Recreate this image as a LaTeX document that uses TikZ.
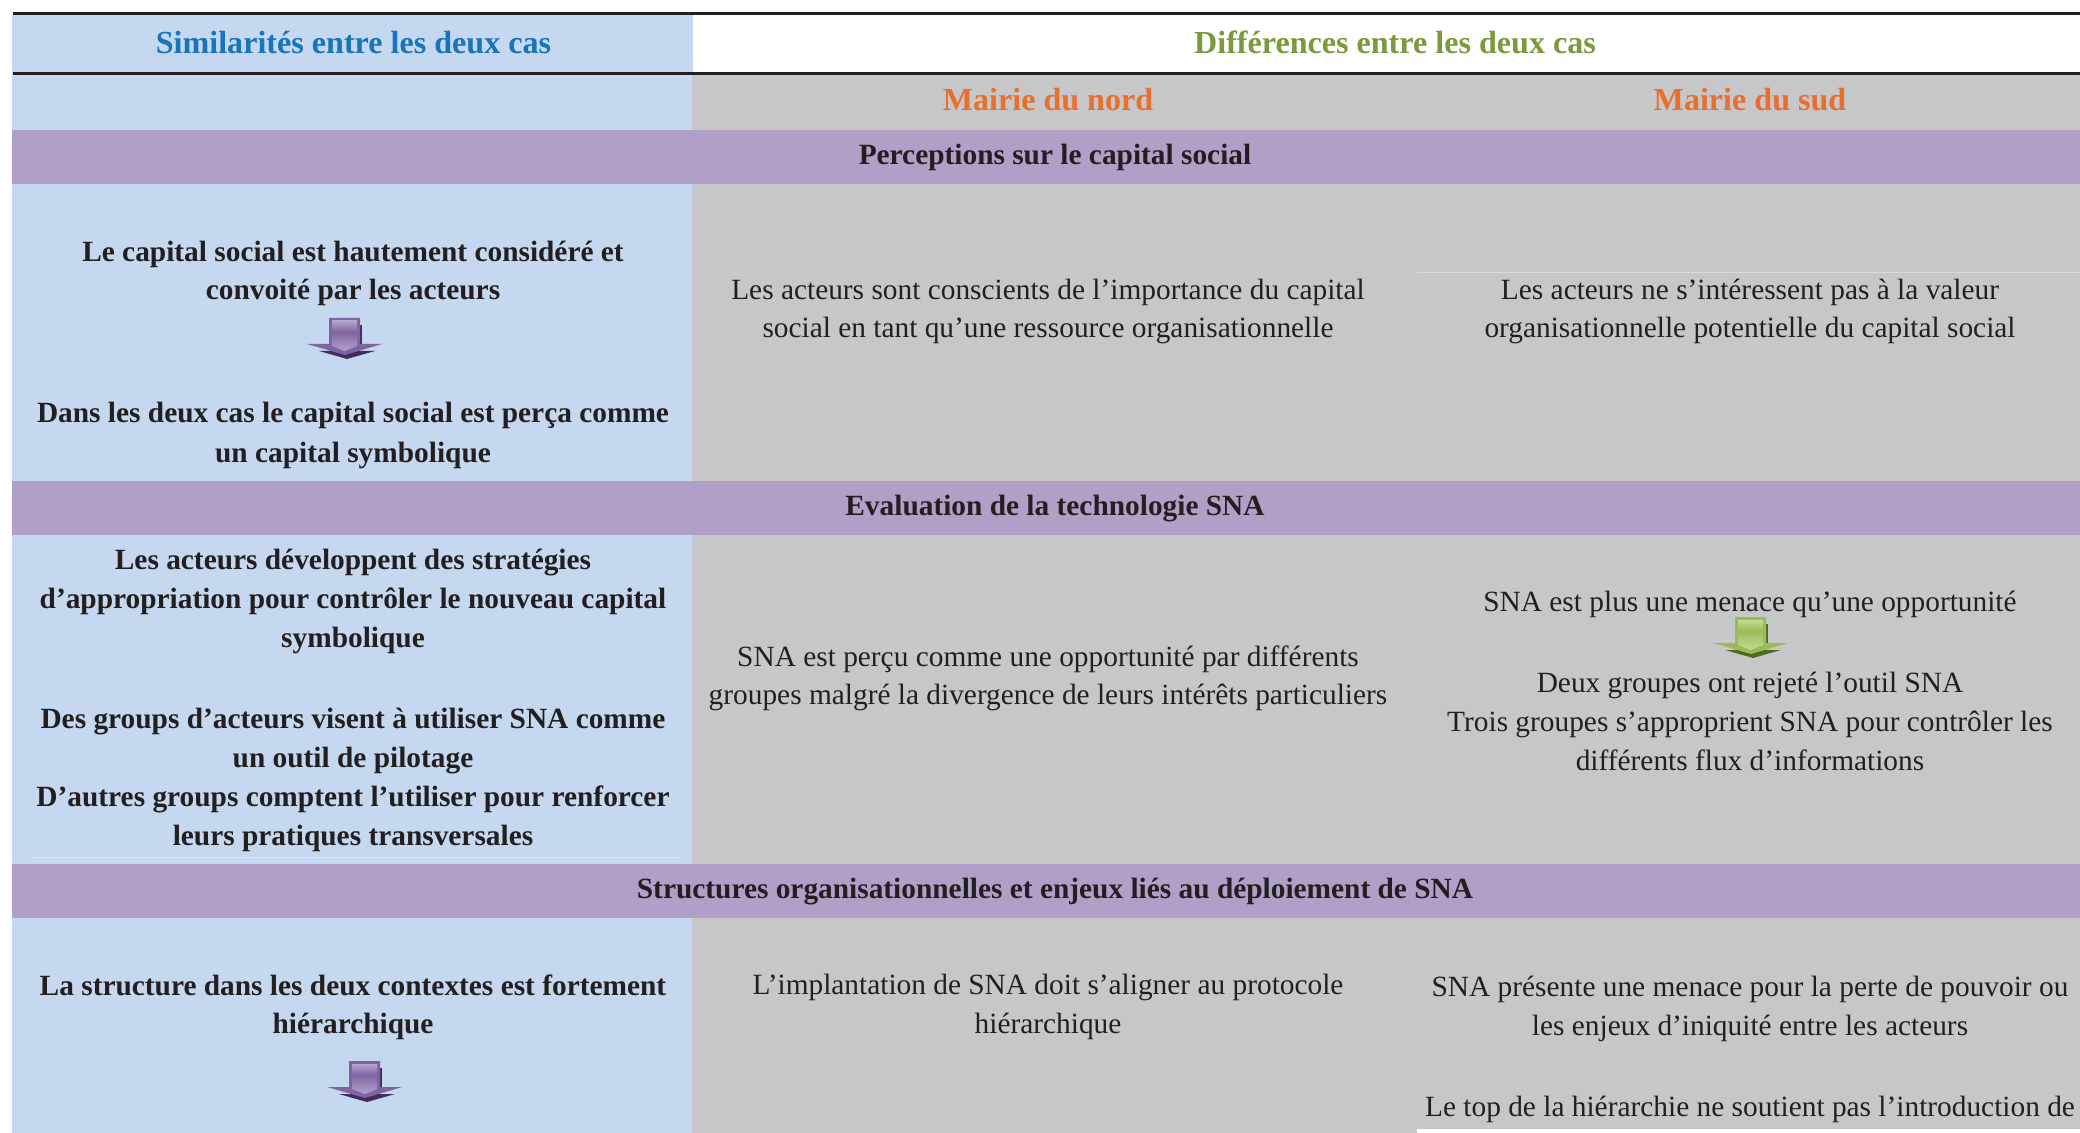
\documentclass[tikz,border=0pt]{standalone}
\usepackage{fontspec}
\setmainfont{Liberation Serif}
\definecolor{blueC}{HTML}{C5D8F0}
\definecolor{grayC}{HTML}{C5C7C9}
\definecolor{bandC}{HTML}{B0A0C8}
\definecolor{inkC}{HTML}{231F20}
\definecolor{titleBlue}{HTML}{1874BB}
\definecolor{titleGreen}{HTML}{7A9A3C}
\definecolor{titleOrange}{HTML}{EA6E2C}
\definecolor{purpleMid}{HTML}{8064A2}
\definecolor{purpleLight}{HTML}{B5A3CC}
\definecolor{purpleDark}{HTML}{3F2D5C}
\definecolor{greenMid}{HTML}{9BBB59}
\definecolor{greenLight}{HTML}{C5DB94}
\definecolor{greenDark}{HTML}{4F6B22}
\tikzset{
  body/.style={font=\fontsize{14.68}{14.68}\selectfont,text=inkC,anchor=base,inner sep=0pt},
  strong/.style={body,font=\fontsize{14.68}{14.68}\selectfont\bfseries},
  heading/.style={anchor=base,inner sep=0pt,font=\fontsize{16.05}{16.05}\selectfont\bfseries},
  rulebar/.style={fill=inkC,draw=none},
  pics/dropicon/.style n args={3}{code={
    \fill[#3] (31,7) rectangle (33,28);
    \fill[#3] (-10,33) -- (46,33) -- (18,41) -- cycle;
    \fill[#1] (0,0) -- (31,0) -- (31,26) -- (53,26) -- (16,37) -- (-22,26) -- (0,26) -- cycle;
    \shade[top color=#2,bottom color=#1] (3,3) rectangle (28,14);
    \shade[top color=#1,bottom color=#2] (3,14) -- (28,14) -- (28,28) -- (15.5,33) -- (3,28) -- cycle;
  }}
}
\begin{document}
\begin{tikzpicture}[x=0.5pt,y=-0.5pt]
\useasboundingbox (0,0) rectangle (2080,1133);
\fill[white] (0,0) rectangle (2080,1133);
% backgrounds
\fill[blueC] (12,15) rectangle (693,1133);
\fill[grayC] (692,75) rectangle (2080,1133);
\fill[bandC] (12,130) rectangle (2080,184);
\fill[bandC] (12,481) rectangle (2080,535);
\fill[bandC] (12,863.5) rectangle (2080,917.5);
\fill[rulebar] (13,12) rectangle (2080,15);
\fill[rulebar] (13,72) rectangle (2080,75);
\draw[white,opacity=.35,line width=.4pt] (1417,272) -- (2080,272);
\draw[white,opacity=.3,line width=.4pt] (30,857) -- (680,857);
\fill[white] (1417,1129) rectangle (2080,1133);
% headings
\node[heading,text=titleBlue] (hsim) at (353.5,54) {Similarités entre les deux cas};
\node[heading,text=titleGreen] (hdiff) at (1395,54) {Différences entre les deux cas};
\node[heading,text=titleOrange] (hnord) at (1048,111) {Mairie du nord};
\node[heading,text=titleOrange] (hsud) at (1750,111) {Mairie du sud};
% bands
\node[strong] (b1) at (1055,165) {Perceptions sur le capital social};
\node[strong] (b2) at (1055,515) {Evaluation de la technologie SNA};
\node[strong] (b3) at (1055,898) {Structures organisationnelles et enjeux liés au déploiement de SNA};
% left column
\node[strong] (l1) at (353,262) {Le capital social est hautement considéré et};
\node[strong] (l2) at (353,300) {convoité par les acteurs};
\node[strong] (l3) at (353,422.5) {Dans les deux cas le capital social est perça comme};
\node[strong] (l4) at (353,462.5) {un capital symbolique};
\node[strong] (l5) at (353,569) {Les acteurs développent des stratégies};
\node[strong] (l6) at (353,608) {d’appropriation pour contrôler le nouveau capital};
\node[strong] (l7) at (353,647) {symbolique};
\node[strong] (l8) at (353,728) {Des groups d’acteurs visent à utiliser SNA comme};
\node[strong] (l9) at (353,767) {un outil de pilotage};
\node[strong] (l10) at (353,806) {D’autres groups comptent l’utiliser pour renforcer};
\node[strong] (l11) at (353,845) {leurs pratiques transversales};
\node[strong] (l12) at (353,995) {La structure dans les deux contextes est fortement};
\node[strong] (l13) at (353,1033) {hiérarchique};
% nord column
\node[body] (n1) at (1048,300) {Les acteurs sont conscients de l’importance du capital};
\node[body] (n2) at (1048,338) {social en tant qu’une ressource organisationnelle};
\node[body] (n3) at (1048,666) {SNA est perçu comme une opportunité par différents};
\node[body] (n4) at (1048,704) {groupes malgré la divergence de leurs intérêts particuliers};
\node[body] (n5) at (1048,994) {L’implantation de SNA doit s’aligner au protocole};
\node[body] (n6) at (1048,1033) {hiérarchique};
% sud column
\node[body] (s1) at (1750,299.5) {Les acteurs ne s’intéressent pas à la valeur};
\node[body] (s2) at (1750,338) {organisationnelle potentielle du capital social};
\node[body] (s3) at (1750,611) {SNA est plus une menace qu’une opportunité};
\node[body] (s4) at (1750,692) {Deux groupes ont rejeté l’outil SNA};
\node[body] (s5) at (1750,731) {Trois groupes s’approprient SNA pour contrôler les};
\node[body] (s6) at (1750,770) {différents flux d’informations};
\node[body] (s7) at (1750,996) {SNA présente une menace pour la perte de pouvoir ou};
\node[body] (s8) at (1750,1035) {les enjeux d’iniquité entre les acteurs};
\node[body] (s9) at (1750,1116) {Le top de la hiérarchie ne soutient pas l’introduction de};
% arrows
\pic at (329,318) {dropicon={purpleMid}{purpleLight}{purpleDark}};
\pic at (349,1061) {dropicon={purpleMid}{purpleLight}{purpleDark}};
\pic at (1735,617) {dropicon={greenMid}{greenLight}{greenDark}};
\end{tikzpicture}
\end{document}
